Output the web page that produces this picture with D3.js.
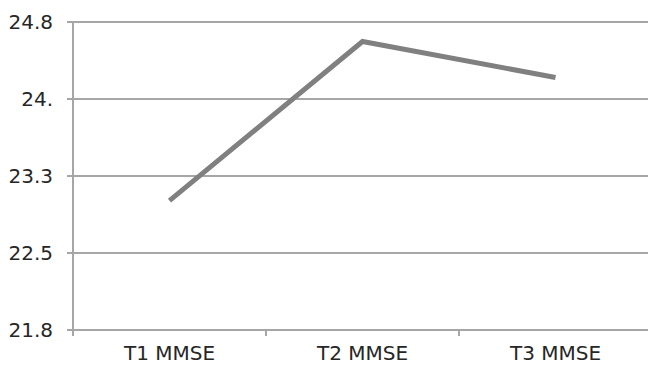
<!DOCTYPE html>
<html><head><meta charset="utf-8">
<script src="https://cdn.jsdelivr.net/npm/d3@7"></script>
<style>body{margin:0;background:#fff}svg{display:block}</style>
</head><body>
<script>
const categories = ["T1 MMSE", "T2 MMSE", "T3 MMSE"];
const values = [23.06, 24.61, 24.26];
const tickValues = [21.8, 22.55, 23.3, 24.05, 24.8];
const tickLabels = ["21.8", "22.5", "23.3", "24.", "24.8"];

const W = 648, H = 365;
const m = {left: 73, right: -4, top: 22, bottom: 35};
const svg = d3.select("body").append("svg").attr("width", W).attr("height", H);
const x = d3.scaleBand().domain(categories).range([m.left, W - m.right]);
const y = d3.scaleLinear().domain([21.8, 24.8]).range([H - m.bottom, m.top]);
const font = "DejaVu Sans, Verdana, sans-serif";

// gridlines
svg.append("g").selectAll("line").data(tickValues).join("line")
  .attr("x1", m.left - 6).attr("x2", W)
  .attr("y1", d => y(d)).attr("y2", d => y(d))
  .attr("stroke", "#a6a6a6").attr("stroke-width", 2);

// y labels
svg.append("g").selectAll("text").data(tickValues).join("text")
  .attr("x", 53).attr("y", d => y(d)).attr("dy", "0.35em")
  .attr("text-anchor", "end").attr("font-family", font).attr("font-size", 20)
  .attr("fill", "#262626").text((d, i) => tickLabels[i]);

// y axis line
svg.append("line").attr("x1", m.left).attr("x2", m.left)
  .attr("y1", m.top).attr("y2", H - m.bottom + 6)
  .attr("stroke", "#a6a6a6").attr("stroke-width", 2);

// x ticks at band boundaries
const bounds = categories.map(c => x(c)).slice(1);
svg.append("g").selectAll("line").data(bounds).join("line")
  .attr("x1", d => d).attr("x2", d => d)
  .attr("y1", y(21.8)).attr("y2", y(21.8) + 6)
  .attr("stroke", "#a6a6a6").attr("stroke-width", 2);

// x labels
svg.append("g").selectAll("text").data(categories).join("text")
  .attr("x", d => x(d) + x.bandwidth() / 2).attr("y", 360)
  .attr("text-anchor", "middle").attr("font-family", font).attr("font-size", 20)
  .attr("fill", "#262626").text(d => d);

// line
const line = d3.line().x((d, i) => x(categories[i]) + x.bandwidth() / 2).y(d => y(d));
svg.append("path").datum(values).attr("d", line)
  .attr("fill", "none").attr("stroke", "#808080").attr("stroke-width", 5)
  .attr("stroke-linejoin", "miter").attr("stroke-linecap", "butt");
</script>
</body></html>
